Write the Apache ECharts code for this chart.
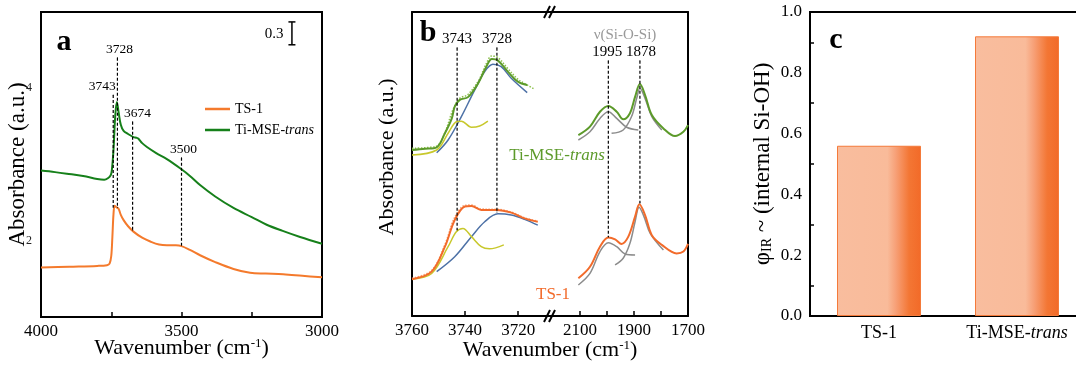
<!DOCTYPE html>
<html>
<head>
<meta charset="utf-8">
<title>OH region IR</title>
<script src="https://cdn.jsdelivr.net/npm/echarts@6.0.0/dist/echarts.min.js"></script>
<style>
  html, body { margin: 0; padding: 0; background: #fff; }
  #main { width: 1076px; height: 370px; }
</style>
</head>
<body>
<div id="main"></div>
<script>
// ---------- panel a : [wavenumber, absorbance] ----------
var aTs1 = [[4000,1.65],[3900,1.66],[3800,1.67],[3765,1.68],[3756,1.70],[3750,1.80],[3746,2.05],[3742,2.35],[3738,2.46],[3732,2.44],[3724,2.42],[3716,2.34],[3706,2.27],[3690,2.19],[3671,2.12],[3640,2.04],[3611,1.99],[3580,1.95],[3552,1.94],[3520,1.94],[3500,1.93],[3470,1.88],[3434,1.81],[3380,1.72],[3315,1.63],[3256,1.58],[3200,1.57],[3138,1.56],[3070,1.54],[3000,1.52]];
var aMse = [[4000,2.92],[3950,2.90],[3908,2.88],[3850,2.85],[3800,2.81],[3775,2.80],[3762,2.82],[3752,2.86],[3748,2.92],[3742,3.19],[3736,3.63],[3730,3.82],[3724,3.69],[3716,3.52],[3706,3.44],[3690,3.40],[3671,3.36],[3660,3.35],[3654,3.34],[3640,3.28],[3623,3.23],[3590,3.15],[3552,3.07],[3505,2.95],[3470,2.85],[3434,2.73],[3380,2.58],[3315,2.43],[3250,2.31],[3197,2.21],[3140,2.13],[3078,2.05],[3000,1.96]];
var aPeaks = [3743, 3728, 3674, 3500];
var aPeakTop = [3.91, 4.40, 3.56, 3.09];
var aPeakBottom = [2.44, 2.44, 2.14, 1.94];
var aPeakShift = [-11, 2, 5, 2];
var aScaleBar = [[3107, 4.87], [3107, 4.57]];

// ---------- panel b : [wavenumber, offset absorbance] ----------
var bMseOH = [[3760,54.6],[3755,55.0],[3750.7,55.5],[3747.6,60.1],[3745,65.0],[3743.9,68.9],[3742,71.1],[3738.9,72.0],[3735.1,76.5],[3732,82.0],[3729.9,84.5],[3727.6,84.0],[3723.9,80.4],[3720.1,77.1],[3716.6,76.0]];
var bMseOHFit = [[3760,55.2],[3751,55.8],[3748,59.5],[3744.5,68.0],[3742,71.6],[3739,72.8],[3735,77.3],[3732,83.0],[3730,85.5],[3727.6,85.0],[3724,81.5],[3720,77.8],[3716.6,76.0],[3713.9,74.6]];
var bMseBlue = [[3750.7,53.7],[3746.4,57.9],[3741.4,65.6],[3736.4,74.3],[3732.6,80.4],[3729.5,82.8],[3726.4,82.0],[3722.6,78.2],[3716.6,73.5]];
var bMseYellow = [[3760,53.0],[3750.7,54.6],[3746.4,60.1],[3743.3,63.9],[3741.4,64.1],[3737.6,62.1],[3734.5,62.5],[3731.4,64.1]];
var bTsOH = [[3760,12.1],[3752.6,14.6],[3747.6,22.8],[3743.9,31.6],[3740.1,36.0],[3737.6,36.2],[3733.9,34.9],[3728.2,34.9],[3722.6,34.0],[3717.6,32.1],[3712.6,31.0]];
var bTsOHFit = [[3760,12.4],[3752.6,15.0],[3747.6,23.5],[3743.9,32.5],[3740,36.4],[3737.6,36.5],[3734,35.2],[3728,35.1],[3722.6,34.2],[3717.6,32.3],[3712.6,31.2]];
var bTsBlue = [[3750.7,14.6],[3743.9,19.5],[3737.6,26.1],[3732.6,31.0],[3727.6,33.6],[3722.6,33.2],[3717.6,31.8],[3712.6,29.9]];
var bTsYellow = [[3760,12.1],[3752.6,14.0],[3746.4,22.8],[3743.3,27.7],[3740.8,28.8],[3737.6,26.1],[3733.9,22.8],[3730.8,22.1],[3725.4,23.4]];
var bMseSiO = [[2106,59.5],[2063,62.3],[2026,67.2],[1995,69.1],[1964,67.2],[1940,64.7],[1915,66.7],[1896,72.1],[1878,76.3],[1859,72.7],[1834,66.1],[1791,61.7],[1748,59.2],[1717,60.6],[1700,62.8]];
var bMseGray1 = [[2106,57.9],[2063,60.6],[2026,65.0],[1995,67.2],[1964,65.0],[1927,62.1],[1884,61.2]];
var bMseGray2 = [[1983,60.1],[1940,61.2],[1909,65.6],[1890,71.6],[1878,74.9],[1859,71.6],[1834,65.6],[1797,61.2]];
var bTsSiO = [[2106,12.4],[2063,16.2],[2026,22.8],[1995,25.8],[1970,25.2],[1946,23.7],[1921,26.1],[1896,32.7],[1880,36.8],[1859,33.2],[1834,26.6],[1797,23.4],[1742,20.6],[1717,21.2],[1700,23.7]];
var bTsGray1 = [[2106,10.2],[2063,14.0],[2026,21.2],[1995,24.1],[1964,22.8],[1933,20.4],[1896,20.1]];
var bTsGray2 = [[1970,16.8],[1940,19.0],[1915,23.9],[1896,31.0],[1881,35.8],[1863,32.7],[1840,27.2],[1791,21.7]];
var bPeaksOH = [3743, 3728];
var bPeaksOHTop = [88.2, 88.2];
var bPeaksOHBottom = [28.3, 34.2];
var bPeaksSiO = [1995, 1878];
var bPeaksSiOTop = [84.0, 84.0];
var bPeaksSiOBottom = [26.0, 37.2];
var bPeaksSiOShift = [-1, 1];

// ---------- panel c ----------
var cCats = ['TS-1', 'Ti-MSE-trans'];
var cVals = [0.56, 0.92];

var FONT = '"Liberation Serif", "Times New Roman", serif';
var ORANGE = '#f47a2c', GREEN = '#16801a';
var B_GREEN = '#5c9a2a', B_ORANGE = '#f26b2b', B_BLUE = '#4d71a6', B_YELLOW = '#c8c82c', B_GRAY = '#8c8c8c';
var AXIS_LINE = { show: true, lineStyle: { color: '#000', width: 2 } };

function italicTrans(v) {
    return v === 'Ti-MSE-trans' ? 'Ti-MSE-{i|trans}' : v;
}

function plain(v) {
    return String(v);
}

function curve(name, x, y, data, color, width, type) {
    return {
        name: name, type: 'line', xAxisIndex: x, yAxisIndex: y, data: data,
        symbol: 'none', smooth: 0.35, silent: true,
        itemStyle: { color: color },
        lineStyle: { color: color, width: width, type: type || 'solid' }
    };
}

// dashed guide with its wavenumber written on top
function guide(x, y, wn, top, bottom, shift, size) {
    return {
        type: 'line', xAxisIndex: x, yAxisIndex: y, silent: true,
        symbol: 'circle', symbolSize: 1, itemStyle: { color: '#000' },
        lineStyle: { color: '#000', width: 1.2, type: [3, 2] },
        data: [
            { value: [wn, top], label: { show: true, position: 'top', distance: 1, offset: [shift, 0],
                formatter: String(wn), fontFamily: FONT, fontSize: size, color: '#000' } },
            [wn, bottom]
        ]
    };
}

var series = [
    curve('TS-1', 0, 0, aTs1, ORANGE, 2),
    curve('Ti-MSE-trans', 0, 0, aMse, GREEN, 2),
    {
        type: 'line', xAxisIndex: 0, yAxisIndex: 0, silent: true,
        symbol: 'rect', symbolSize: [7, 1.5], itemStyle: { color: '#000' },
        lineStyle: { color: '#000', width: 1.5 },
        data: [
            { value: aScaleBar[0], label: { show: true, position: 'left', distance: 5, offset: [0, 12],
                formatter: '0.3', fontFamily: FONT, fontSize: 15, color: '#000' } },
            aScaleBar[1]
        ]
    },
    curve('b1', 1, 1, bMseOHFit, '#8cc04c', 1.5, 'dotted'),
    curve('b2', 1, 1, bMseBlue, B_BLUE, 1.5),
    curve('b3', 1, 1, bMseYellow, B_YELLOW, 1.5),
    curve('b4', 1, 1, bMseOH, B_GREEN, 2),
    curve('b5', 1, 1, bTsOHFit, '#f7a070', 1.5, 'dotted'),
    curve('b6', 1, 1, bTsBlue, B_BLUE, 1.5),
    curve('b7', 1, 1, bTsYellow, B_YELLOW, 1.5),
    curve('b8', 1, 1, bTsOH, B_ORANGE, 2),
    curve('b9', 2, 2, bMseGray1, B_GRAY, 1.5),
    curve('b10', 2, 2, bMseGray2, B_GRAY, 1.5),
    curve('b11', 2, 2, bMseSiO, B_GREEN, 2),
    curve('b12', 2, 2, bTsGray1, B_GRAY, 1.5),
    curve('b13', 2, 2, bTsGray2, B_GRAY, 1.5),
    curve('b14', 2, 2, bTsSiO, B_ORANGE, 2),
    {
        type: 'bar', xAxisIndex: 5, yAxisIndex: 3, data: cVals, barWidth: 84, silent: true,
        itemStyle: {
            borderColor: '#f47a3a', borderWidth: 1,
            color: new echarts.graphic.LinearGradient(0, 0, 1, 0, [
                { offset: 0, color: '#f9bd9e' },
                { offset: 0.6, color: '#f9bb9a' },
                { offset: 0.7, color: '#f7a077' },
                { offset: 0.86, color: '#f37634' },
                { offset: 1, color: '#f26a28' }
            ])
        }
    }
];
aPeaks.forEach(function (wn, i) {
    series.push(guide(0, 0, wn, aPeakTop[i], aPeakBottom[i], aPeakShift[i], 13.5));
});
bPeaksOH.forEach(function (wn, i) {
    series.push(guide(1, 1, wn, bPeaksOHTop[i], bPeaksOHBottom[i], 0, 15));
});
bPeaksSiO.forEach(function (wn, i) {
    series.push(guide(2, 2, wn, bPeaksSiOTop[i], bPeaksSiOBottom[i], bPeaksSiOShift[i], 15));
});

var tickLabel = { fontFamily: FONT, fontSize: 17, color: '#000' };
var wnName = {
    fontFamily: FONT, fontSize: 22, color: '#000',
    rich: { sup: { fontFamily: FONT, fontSize: 13, verticalAlign: 'top', color: '#000' } }
};

var option = {
    animation: false,
    backgroundColor: '#fff',
    textStyle: { fontFamily: FONT },
    grid: [
        { left: 41, top: 12, width: 281, height: 305, show: true, borderColor: '#000', borderWidth: 2, outerBoundsMode: 'none' },
        { left: 412, top: 12, width: 138, height: 304, outerBoundsMode: 'none' },
        { left: 550, top: 12, width: 138, height: 304, outerBoundsMode: 'none' },
        { left: 810, top: 12, width: 276, height: 304, show: true, borderColor: '#000', borderWidth: 2, outerBoundsMode: 'none' }
    ],
    legend: {
        data: ['TS-1', 'Ti-MSE-trans'],
        orient: 'vertical', left: 200, top: 97, itemGap: 7,
        icon: 'rect', itemWidth: 25, itemHeight: 2.5,
        formatter: italicTrans,
        textStyle: { fontFamily: FONT, fontSize: 14, color: '#000',
            rich: { i: { fontFamily: FONT, fontSize: 14, fontStyle: 'italic', color: '#000' } } }
    },
    xAxis: [
        {
            type: 'value', gridIndex: 0, min: 3000, max: 4000, interval: 250, inverse: true,
            axisLine: AXIS_LINE, splitLine: { show: false },
            axisTick: { inside: true, length: 5, lineStyle: { color: '#000', width: 1.5 } },
            axisLabel: Object.assign({ margin: 6, formatter: function (v) { return v % 500 === 0 ? String(v) : ''; } }, tickLabel),
            name: 'Wavenumber (cm{sup|-1})', nameLocation: 'middle', nameGap: 20, nameMoveOverlap: false, nameTextStyle: wnName
        },
        {
            type: 'value', gridIndex: 1, min: 3708, max: 3760, inverse: true,
            axisLine: AXIS_LINE, splitLine: { show: false },
            axisTick: { inside: true, length: 5, customValues: [3740, 3720], lineStyle: { color: '#000', width: 1.5 } },
            axisLabel: Object.assign({ margin: 6, customValues: [3760, 3740, 3720], formatter: plain }, tickLabel)
        },
        {
            type: 'value', gridIndex: 2, min: 1700, max: 2211, inverse: true,
            axisLine: AXIS_LINE, splitLine: { show: false },
            axisTick: { inside: true, length: 5, customValues: [2100, 2000, 1900, 1800], lineStyle: { color: '#000', width: 1.5 } },
            axisLabel: Object.assign({ margin: 6, customValues: [2100, 1900, 1700], formatter: plain }, tickLabel)
        },
        {
            type: 'value', gridIndex: 1, position: 'top', min: 3708, max: 3760, inverse: true,
            axisLine: AXIS_LINE, axisTick: { show: false }, axisLabel: { show: false }, splitLine: { show: false }
        },
        {
            type: 'value', gridIndex: 2, position: 'top', min: 1700, max: 2211, inverse: true,
            axisLine: AXIS_LINE, axisTick: { show: false }, axisLabel: { show: false }, splitLine: { show: false }
        },
        {
            type: 'category', gridIndex: 3, data: cCats,
            axisLine: AXIS_LINE, axisTick: { show: false },
            axisLabel: Object.assign({}, tickLabel, { fontSize: 18, margin: 8, interval: 0, hideOverlap: false,
                formatter: italicTrans,
                rich: { i: { fontFamily: FONT, fontSize: 18, fontStyle: 'italic', color: '#000' } } })
        }
    ],
    yAxis: [
        {
            type: 'value', gridIndex: 0, min: 1, max: 5, interval: 1,
            axisLine: AXIS_LINE, axisTick: { show: false }, splitLine: { show: false },
            axisLabel: { margin: 9, fontFamily: FONT, fontSize: 12, color: '#222',
                formatter: function (v) { return (v === 2 || v === 4) ? String(v) : ''; } },
            name: 'Absorbance (a.u.)', nameLocation: 'middle', nameRotate: 90, nameGap: 12, nameMoveOverlap: false,
            nameTextStyle: { fontFamily: FONT, fontSize: 23, color: '#000' }
        },
        {
            type: 'value', gridIndex: 1, min: 0, max: 100,
            axisLine: AXIS_LINE, axisTick: { show: false }, axisLabel: { show: false }, splitLine: { show: false },
            name: 'Absorbance (a.u.)', nameLocation: 'middle', nameRotate: 90, nameGap: 14,
            nameTextStyle: { fontFamily: FONT, fontSize: 22, color: '#000', padding: [0, 0, 0, 14] }
        },
        {
            type: 'value', gridIndex: 2, min: 0, max: 100, position: 'right',
            axisLine: AXIS_LINE, axisTick: { show: false }, axisLabel: { show: false }, splitLine: { show: false }
        },
        {
            type: 'value', gridIndex: 3, min: 0, max: 1, interval: 0.2,
            axisLine: AXIS_LINE, splitLine: { show: false },
            axisTick: { inside: true, length: 5, lineStyle: { color: '#000', width: 1.5 } },
            minorTick: { show: true, splitNumber: 2, length: 4, lineStyle: { color: '#000', width: 1.5 } },
            axisLabel: Object.assign({ margin: 8, formatter: function (v) { return v.toFixed(1); } }, tickLabel),
            name: '{p|φ}{sub|IR}{p| ~ (internal Si-OH)}', nameLocation: 'middle', nameRotate: 90, nameGap: 36,
            nameTextStyle: { fontFamily: FONT, fontSize: 23, color: '#000',
                rich: {
                    p: { fontFamily: FONT, fontSize: 23, color: '#000' },
                    sub: { fontFamily: FONT, fontSize: 14, color: '#000', verticalAlign: 'bottom' }
                } }
        }
    ],
    graphic: [
        { type: 'text', x: 64, y: 42, style: { text: 'a', fontFamily: FONT, fontSize: 30, fontWeight: 'bold', fill: '#000', align: 'center', verticalAlign: 'middle' } },
        { type: 'text', x: 428, y: 33, style: { text: 'b', fontFamily: FONT, fontSize: 30, fontWeight: 'bold', fill: '#000', align: 'center', verticalAlign: 'middle' } },
        { type: 'text', x: 836, y: 40, style: { text: 'c', fontFamily: FONT, fontSize: 30, fontWeight: 'bold', fill: '#000', align: 'center', verticalAlign: 'middle' } },
        { type: 'text', x: 625, y: 35, style: { text: 'ν(Si-O-Si)', fontFamily: FONT, fontSize: 15, fill: '#999', align: 'center', verticalAlign: 'middle' } },
        { type: 'text', x: 557, y: 156, style: { text: 'Ti-MSE-{i|trans}', fontFamily: FONT, fontSize: 17, fill: B_GREEN, align: 'center', verticalAlign: 'middle',
            rich: { i: { fontFamily: FONT, fontSize: 17, fontStyle: 'italic', fill: B_GREEN } } } },
        { type: 'text', x: 553, y: 295, style: { text: 'TS-1', fontFamily: FONT, fontSize: 17, fill: B_ORANGE, align: 'center', verticalAlign: 'middle' } },
        { type: 'text', x: 550, y: 350, style: { text: 'Wavenumber (cm{sup|-1})', fontFamily: FONT, fontSize: 22, fill: '#000', align: 'center', verticalAlign: 'middle',
            rich: { sup: { fontFamily: FONT, fontSize: 13, fill: '#000', verticalAlign: 'top' } } } },
        // axis break marks
        { type: 'line', shape: { x1: 544, y1: 322, x2: 550, y2: 310 }, style: { stroke: '#000', lineWidth: 2 } },
        { type: 'line', shape: { x1: 549, y1: 322, x2: 555, y2: 310 }, style: { stroke: '#000', lineWidth: 2 } },
        { type: 'line', shape: { x1: 544, y1: 18, x2: 550, y2: 6 }, style: { stroke: '#000', lineWidth: 2 } },
        { type: 'line', shape: { x1: 549, y1: 18, x2: 555, y2: 6 }, style: { stroke: '#000', lineWidth: 2 } }
    ],
    series: series
};

var chart = echarts.init(document.getElementById('main'));
chart.setOption(option);
</script>
</body>
</html>
